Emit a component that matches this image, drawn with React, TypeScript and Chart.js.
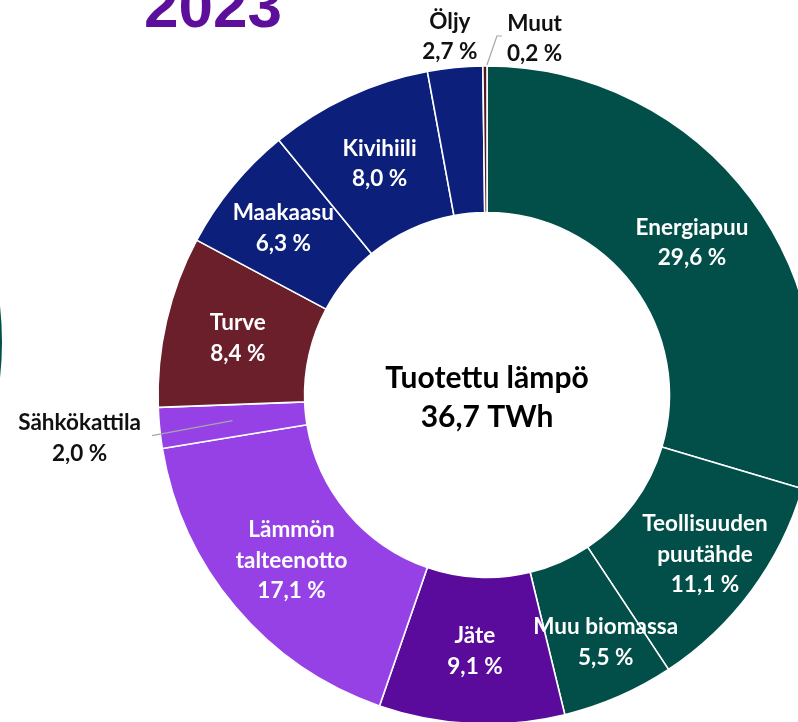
import React, { useEffect, useRef } from "react";
import { Chart, registerables } from "chart.js";

Chart.register(...registerables);

// ---- data ----
const categories = [
  "Energiapuu",
  "Teollisuuden puutähde",
  "Muu biomassa",
  "Jäte",
  "Lämmön talteenotto",
  "Sähkökattila",
  "Turve",
  "Maakaasu",
  "Kivihiili",
  "Öljy",
  "Muut",
];
const labelLines = [
  ["Energiapuu"],
  ["Teollisuuden", "puutähde"],
  ["Muu biomassa"],
  ["Jäte"],
  ["Lämmön", "talteenotto"],
  ["Sähkökattila"],
  ["Turve"],
  ["Maakaasu"],
  ["Kivihiili"],
  ["Öljy"],
  ["Muut"],
];
const shares = [29.6, 11.1, 5.5, 9.1, 17.1, 2.0, 8.4, 6.3, 8.0, 2.7, 0.2];
const centerTitle = "Tuotettu lämpö";
const centerTotal = "36,7 TWh";
const yearTitle = "2023";

// ---- styles ----
const sliceColors = [
  "#024f49",
  "#024f49",
  "#024f49",
  "#5a0b9b",
  "#9641e6",
  "#9641e6",
  "#6a1f2a",
  "#0b1f7b",
  "#0b1f7b",
  "#0b1f7b",
  "#4f1a22",
];
// label placement mode per slice: in / outside / leaderLeft / elbow
const placements = ["in", "in", "in", "in", "in", "leaderLeft", "in", "in", "in", "outside", "elbow"];
const radialNudge: Record<number, number> = { 1: 14, 2: 18, 7: 8 };
const angleNudge: Record<number, number> = { 2: -0.037, 1: -0.008 };

const W = 980;
const H = 800;
const CX = 487;
const CY = 395;
const R = 329;
const CUT = 182;
const FONT = "Lato, 'Open Sans', sans-serif";
const LABEL_PX = 22.5;
const LINE_H = 30.5;
const CAP = 0.7165;

const fmt = (v: number) => v.toFixed(1).replace(".", ",") + " %";

function drawBlock(ctx: CanvasRenderingContext2D, lines: string[], x: number, y: number, color: string, px: number, lh: number) {
  ctx.save();
  ctx.font = `bold ${px}px ${FONT}`;
  ctx.fillStyle = color;
  ctx.textAlign = "center";
  ctx.textBaseline = "alphabetic";
  const n = lines.length;
  lines.forEach((t, k) => {
    const cy = y + (k - (n - 1) / 2) * lh;
    ctx.fillText(t, x, cy + (px * CAP) / 2);
  });
  ctx.restore();
}

const decoPlugin = {
  id: "deco",
  beforeDraw(chart: any) {
    const ctx = chart.ctx as CanvasRenderingContext2D;
    ctx.save();
    ctx.fillStyle = "#ffffff";
    ctx.fillRect(0, 0, chart.width, chart.height);
    // neighbouring doughnut edge (cropped at left)
    ctx.beginPath();
    ctx.arc(-327, 342, 329, -0.6, 0.6);
    ctx.arc(-327, 342, 180, 0.6, -0.6, true);
    ctx.closePath();
    ctx.fillStyle = "#024f49";
    ctx.fill();
    // year title (cropped at top)
    ctx.font = `bold 62px 'Liberation Sans', Arial, sans-serif`;
    ctx.fillStyle = "#5b0f9b";
    ctx.textAlign = "center";
    ctx.textBaseline = "alphabetic";
    ctx.fillText(yearTitle, 213, 27);
    ctx.restore();
  },
};

const labelPlugin = {
  id: "sliceLabels",
  afterDatasetsDraw(chart: any) {
    const ctx = chart.ctx as CanvasRenderingContext2D;
    const meta = chart.getDatasetMeta(0);
    meta.data.forEach((el: any, i: number) => {
      const p = el.getProps(["x", "y", "startAngle", "endAngle", "innerRadius", "outerRadius"], true);
      const mid = (p.startAngle + p.endAngle) / 2 + (angleNudge[i] || 0);
      const cos = Math.cos(mid);
      const sin = Math.sin(mid);
      const lines = [...labelLines[i], fmt(shares[i])];
      const mode = placements[i];
      if (mode === "in") {
        const r = (p.innerRadius + p.outerRadius) / 2 + (radialNudge[i] || 0);
        drawBlock(ctx, lines, p.x + r * cos, p.y + r * sin, "#ffffff", LABEL_PX, LINE_H);
      } else if (mode === "outside") {
        const r = p.outerRadius + 32;
        drawBlock(ctx, lines, p.x + r * cos - 2, p.y + r * sin, "#111111", LABEL_PX, LINE_H);
      } else if (mode === "leaderLeft") {
        const r0 = (p.innerRadius + p.outerRadius) / 2;
        const sx = p.x + r0 * cos;
        const sy = p.y + r0 * sin;
        const a = mid - 0.082;
        const len = 82;
        const ex = sx + len * Math.cos(a);
        const ey = sy + len * Math.sin(a);
        ctx.save();
        ctx.strokeStyle = "#a6a6a6";
        ctx.lineWidth = 1.2;
        ctx.beginPath();
        ctx.moveTo(sx, sy);
        ctx.lineTo(ex, ey);
        ctx.stroke();
        ctx.font = `bold ${LABEL_PX}px ${FONT}`;
        const mw = Math.max(...lines.map((t) => ctx.measureText(t).width));
        ctx.restore();
        drawBlock(ctx, lines, ex - 11 - mw / 2, ey + 2, "#111111", LABEL_PX, LINE_H);
      } else if (mode === "elbow") {
        const r0 = p.outerRadius + 1;
        const x0 = p.x + r0 * cos + 2;
        const y0 = p.y + r0 * sin;
        const x1 = x0 + 10;
        const y1 = y0 - 29;
        const x2 = x1 + 5;
        ctx.save();
        ctx.strokeStyle = "#a6a6a6";
        ctx.lineWidth = 1.2;
        ctx.beginPath();
        ctx.moveTo(x0, y0);
        ctx.lineTo(x1, y1);
        ctx.lineTo(x2, y1);
        ctx.stroke();
        ctx.font = `bold ${LABEL_PX}px ${FONT}`;
        const mw = Math.max(...lines.map((t) => ctx.measureText(t).width));
        ctx.restore();
        drawBlock(ctx, lines, x2 + 5 + mw / 2, y1 + 2, "#111111", LABEL_PX, LINE_H);
      }
    });
    // centre text
    const c = meta.data[0].getProps(["x", "y"], true);
    ctx.save();
    ctx.font = `bold 30px ${FONT}`;
    ctx.fillStyle = "#000000";
    ctx.textAlign = "center";
    ctx.textBaseline = "alphabetic";
    ctx.fillText(centerTitle, c.x, c.y - 7);
    ctx.fillText(centerTotal, c.x, c.y + 32);
    ctx.restore();
  },
};

export default function App() {
  const ref = useRef<HTMLCanvasElement | null>(null);
  useEffect(() => {
    if (!ref.current) return;
    const chart = new Chart(ref.current, {
      type: "doughnut",
      data: {
        labels: categories,
        datasets: [
          {
            data: shares,
            backgroundColor: sliceColors,
            borderColor: "#ffffff",
            borderWidth: 1.6,
            hoverOffset: 0,
          },
        ],
      },
      options: {
        responsive: false,
        animation: false,
        devicePixelRatio: 1,
        radius: R,
        cutout: CUT,
        rotation: 0,
        layout: {
          padding: { left: CX - R, top: CY - R, right: W - (CX + R), bottom: H - (CY + R) },
        },
        plugins: {
          legend: { display: false },
          tooltip: { enabled: false },
          title: { display: false },
        },
        events: [],
      } as any,
      plugins: [decoPlugin, labelPlugin],
    });
    return () => chart.destroy();
  }, []);
  return (
    <div
      style={{
        position: "fixed",
        left: 0,
        top: 0,
        width: 798,
        height: 722,
        overflow: "hidden",
        background: "#ffffff",
      }}
    >
      <canvas ref={ref} width={W} height={H} style={{ display: "block", width: W, height: H }} />
    </div>
  );
}
